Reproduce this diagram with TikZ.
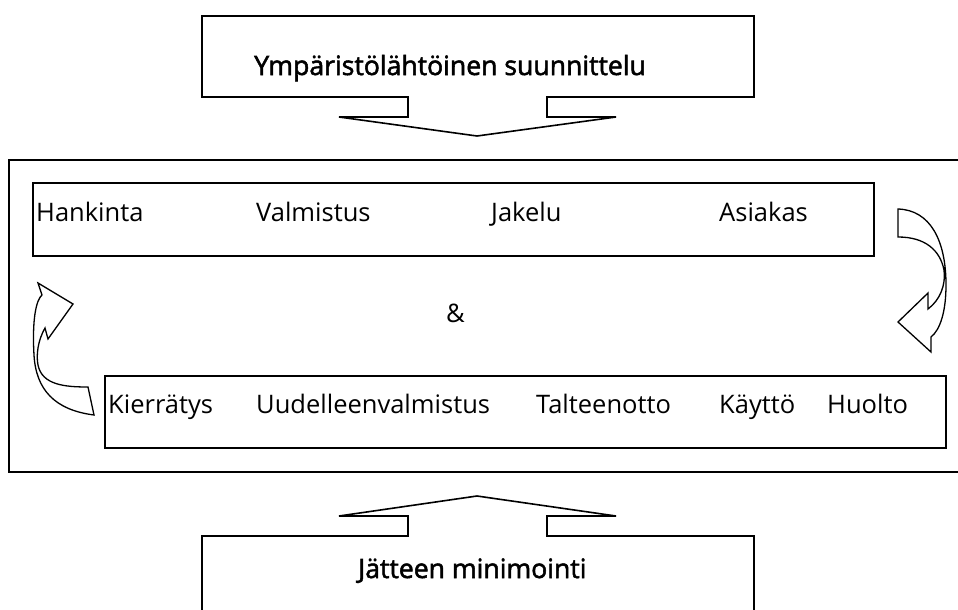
\documentclass[tikz,border=0pt]{standalone}
\usepackage{fontspec}
\setmainfont{Open Sans}
\newfontfamily\ttlfont[FakeBold=2]{Open Sans}
\begin{document}
\begin{tikzpicture}[x=1pt,y=-1pt,
  frame/.style={draw=black,line width=1.6pt,line join=miter,fill=white},
  lbl/.style={anchor=base west,inner sep=0pt,font=\fontsize{25.5}{28}\selectfont},
  ttl/.style={anchor=base west,inner sep=0pt,font=\ttlfont\fontsize{26.6}{29}\selectfont}]
\useasboundingbox (0,0) rectangle (958,610);
\clip (0,0) rectangle (958,610);
% outer frame
\draw[frame] (9,160) rectangle (966,472);
% inner boxes
\draw[frame] (33,183) rectangle (874,256);
\draw[frame] (105,376) rectangle (946,448);
% top callout
\draw[frame] (202,16) -- (754,16) -- (754,97) -- (547,97) -- (547,117) -- (616,117)
  -- (477,136) -- (339,117) -- (408,117) -- (408,97) -- (202,97) -- cycle;
% bottom callout
\draw[frame] (202,620) -- (202,536) -- (408,536) -- (408,516) -- (339,516) -- (477,496)
  -- (616,516) -- (547,516) -- (547,536) -- (754,536) -- (754,620);
% right curved arrow
\draw[frame,line width=1.3pt] (898,209) .. controls (930,210) and (946,240) .. (946,285)
  .. controls (946,312) and (940,330) .. (931,337) -- (931,352) -- (898,322) -- (928,293)
  -- (928,309) .. controls (940,300) and (946,285) .. (944,270)
  .. controls (940,250) and (925,237) .. (898,237) -- cycle;
% left curved arrow
\draw[frame,line width=1.3pt] (88,387) -- (94,415) .. controls (55,410) and (36,390) .. (34,355)
  .. controls (32,320) and (36,300) .. (42,295) -- (38,283) -- (73,304) -- (48,339) -- (45,328)
  .. controls (38,340) and (36,355) .. (38,365) .. controls (42,385) and (65,387) .. (88,387) -- cycle;
% texts
\node[ttl] (t1) at (254,75) {Ympäristölähtöinen suunnittelu};
\node[ttl] (t2) at (358,578) {Jätteen minimointi};
\node[lbl] (a1) at (36,221) {Hankinta};
\node[lbl] (a2) at (256,221) {Valmistus};
\node[lbl] (a3) at (491,221) {Jakelu};
\node[lbl] (a4) at (719,221) {Asiakas};
\node[lbl] (amp) at (446,322) {\&};
\node[lbl] (b1) at (108,413) {Kierrätys};
\node[lbl] (b2) at (256,413) {Uudelleenvalmistus};
\node[lbl] (b3) at (536,413) {Talteenotto};
\node[lbl] (b4) at (719,413) {Käyttö};
\node[lbl] (b5) at (827,413) {Huolto};
\end{tikzpicture}
\end{document}
